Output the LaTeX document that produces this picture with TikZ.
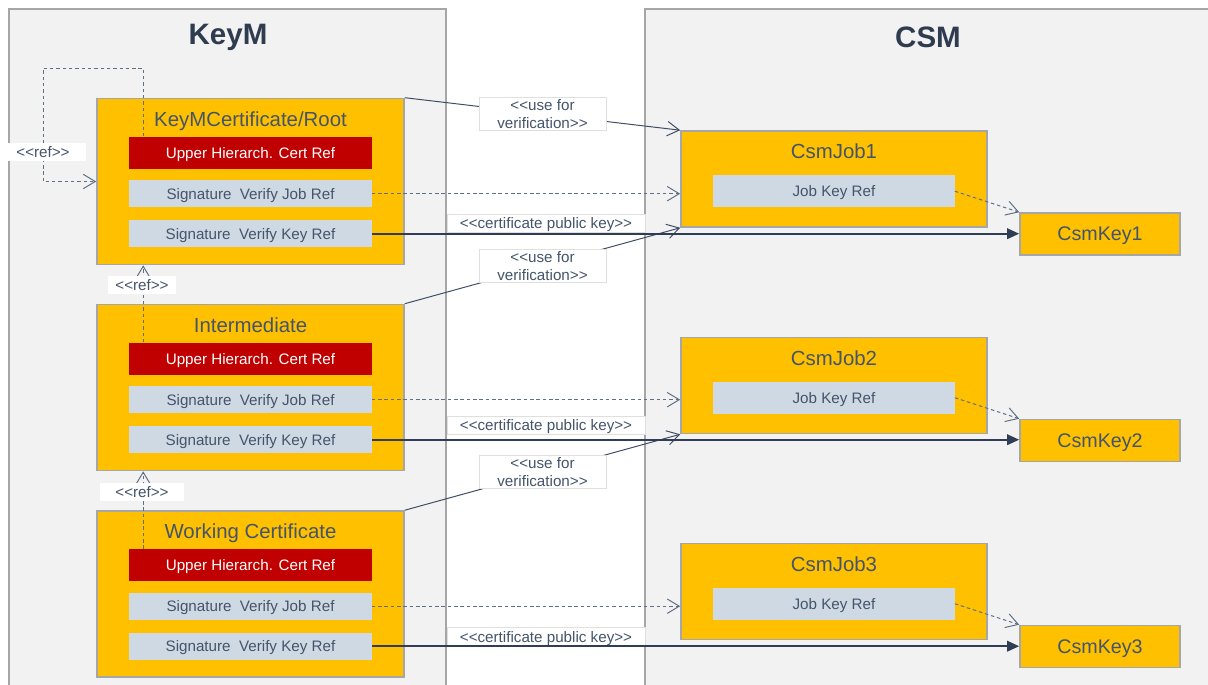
\documentclass[tikz,border=0pt]{standalone}
\usepackage{fontspec}
\setmainfont{Liberation Sans}
\usepackage{tikz}
\usetikzlibrary{calc,positioning,arrows.meta}
\definecolor{keyorange}{HTML}{FFC000}
\definecolor{keyred}{HTML}{C00000}
\definecolor{fieldblue}{HTML}{CFD9E4}
\definecolor{inktext}{HTML}{44546A}
\definecolor{titleink}{HTML}{2F3B4F}
\definecolor{panelgray}{HTML}{F2F2F2}
\definecolor{bordergray}{HTML}{A6A6A6}
\definecolor{dashink}{HTML}{5F7086}
\definecolor{linkink}{HTML}{3E4D63}
\definecolor{keyink}{HTML}{2F3E56}
\tikzset{
  panel/.style={draw=bordergray, fill=panelgray, line width=1.2pt, inner sep=0pt},
  paneltitle/.style={font=\fontsize{21}{24}\selectfont\bfseries, text=titleink},
  certbox/.style={draw=bordergray, fill=keyorange, line width=1.1pt, 
  minimum width=7.675cm, minimum height=4.15cm, inner sep=0pt},
  jobbox/.style={certbox, minimum width=7.65cm, minimum height=2.4cm},
  keybox/.style={certbox, minimum width=4cm, minimum height=1.05cm, text depth=0pt,
  font=\fontsize{14}{16}\selectfont, text=inktext},
  boxtitle/.style={font=\fontsize{14.5}{17}\selectfont, text=inktext, inner sep=0pt, text depth=0pt},
  upperfield/.style={fill=keyred, text=white, minimum width=6.05cm, text depth=0pt,
  minimum height=0.8cm, inner sep=0pt, font=\fontsize{10.8}{13}\selectfont},
  reffield/.style={upperfield, fill=fieldblue, text=inktext, minimum height=0.675cm},
  jobfield/.style={reffield, minimum width=6.025cm, minimum height=0.8cm},
  reflabel/.style={fill=white, text=inktext, inner sep=1pt, minimum width=1.7cm, text depth=0pt,
  minimum height=0.45cm, font=\fontsize{10.8}{13}\selectfont},
  verlabel/.style={fill=white, text=inktext, draw=gray!25, line width=0.4pt, align=center,
  inner sep=1pt, minimum width=3.175cm, minimum height=0.825cm, font=\fontsize{10.8}{12.8}\selectfont},
  pubkeylabel/.style={reflabel, draw=gray!25, line width=0.4pt, minimum width=4.95cm},
  refline/.style={draw=dashink, line width=0.7pt, dash pattern=on 2.5pt off 2pt,
  -{Straight Barb[length=3mm,width=3.6mm]}},
  verline/.style={draw=linkink, line width=0.7pt, -{Straight Barb[length=3mm,width=3.6mm]}},
  keyline/.style={draw=keyink, line width=1.4pt, -{Triangle[length=3mm,width=2.6mm]}}
}
\begin{document}
\begin{tikzpicture}[x=0.025cm, y=-0.025cm]
\clip (0,0) rectangle (1208,684);
% panels
\node[panel, minimum width=10.925cm, minimum height=17.275cm] (keym) at (227.5,354.5) {};
\node[panel, minimum width=14.625cm, minimum height=17.275cm] (csm) at (937.5,354.5) {};
\node[paneltitle] (keymtitle) at (228,37) {KeyM};
\node[paneltitle] (csmtitle) at (928,37) {CSM};

% KeyM certificates
\node[certbox] (root) at (250.5,181.5) {};
\node[boxtitle] (roottitle) at ($(root.north)+(0,21)$) {KeyMCertificate/Root};
\node[upperfield] (rootup) at ($(root.north)+(0,55)$) {Upper Hierarch. Cert Ref};
\node[reffield] (rootjob) at ($(root.north)+(0,96)$) {Signature\ \ Verify Job Ref};
\node[reffield] (rootkey) at ($(root.north)+(0,136)$) {Signature\ \ Verify Key Ref};

\node[certbox] (int) at (250.5,387.5) {};
\node[boxtitle] (inttitle) at ($(int.north)+(0,21)$) {Intermediate};
\node[upperfield] (intup) at ($(int.north)+(0,55)$) {Upper Hierarch. Cert Ref};
\node[reffield] (intjob) at ($(int.north)+(0,96)$) {Signature\ \ Verify Job Ref};
\node[reffield] (intkey) at ($(int.north)+(0,136)$) {Signature\ \ Verify Key Ref};

\node[certbox] (work) at (250.5,594) {};
\node[boxtitle] (worktitle) at ($(work.north)+(0,21)$) {Working Certificate};
\node[upperfield] (workup) at ($(work.north)+(0,55)$) {Upper Hierarch. Cert Ref};
\node[reffield] (workjob) at ($(work.north)+(0,96)$) {Signature\ \ Verify Job Ref};
\node[reffield] (workkey) at ($(work.north)+(0,136)$) {Signature\ \ Verify Key Ref};

% CSM jobs and keys
\node[jobbox] (job1) at (834,179) {};
\node[boxtitle] (job1title) at ($(job1.north)+(0,21)$) {CsmJob1};
\node[jobfield] (job1ref) at ($(job1.north)+(0,61)$) {Job Key Ref};
\node[jobbox] (job2) at (834,385.5) {};
\node[boxtitle] (job2title) at ($(job2.north)+(0,21)$) {CsmJob2};
\node[jobfield] (job2ref) at ($(job2.north)+(0,61)$) {Job Key Ref};
\node[jobbox] (job3) at (834,591.5) {};
\node[boxtitle] (job3title) at ($(job3.north)+(0,21)$) {CsmJob3};
\node[jobfield] (job3ref) at ($(job3.north)+(0,61)$) {Job Key Ref};

\node[keybox] (key1) at (1100,234) {CsmKey1};
\node[keybox] (key2) at (1100,440.5) {CsmKey2};
\node[keybox] (key3) at (1100,646.5) {CsmKey3};

% hierarchy refs
\coordinate (refloop) at (43,68);
\draw[refline] ($(rootup.north west)+(14,0)$) |- (refloop) |- (root.west);
\draw[refline] ($(intup.north west)+(14,0)$) coordinate (intref) -- (intref |- root.south);
\draw[refline] ($(workup.north west)+(14,0)$) coordinate (workref) -- (workref |- int.south);
\node[reflabel, minimum width=2.125cm] (ref1) at (43,152) {<{}<ref>{}>};
\node[reflabel] (ref2) at (142,285) {<{}<ref>{}>};
\node[reflabel, minimum width=2.075cm] (ref3) at (142,492) {<{}<ref>{}>};

% use for verification
\draw[verline] (root.north east) -- node[verlabel] (ver1) {<{}<use for\\verification>{}>} (job1.north west);
\draw[verline] (int.north east) -- node[verlabel] (ver2) {<{}<use for\\verification>{}>} (job1.south west);
\draw[verline] (work.north east) -- node[verlabel] (ver3) {<{}<use for\\verification>{}>} (job2.south west);

% job refs
\draw[refline] (rootjob.east) -- (rootjob.east -| job1.west);
\draw[refline] (intjob.east) -- (intjob.east -| job2.west);
\draw[refline] (workjob.east) -- (workjob.east -| job3.west);
\draw[refline] (job1ref.east) -- (key1.north west);
\draw[refline] (job2ref.east) -- (key2.north west);
\draw[refline] (job3ref.east) -- (key3.north west);

% key refs
\node[pubkeylabel] (pub1) at (546,223) {<{}<certificate public key>{}>};
\node[pubkeylabel] (pub2) at (546,425) {<{}<certificate public key>{}>};
\node[pubkeylabel] (pub3) at (546,636.5) {<{}<certificate public key>{}>};
\draw[keyline] (rootkey.east) -- (rootkey.east -| key1.west);
\draw[keyline] (intkey.east) -- (intkey.east -| key2.west);
\draw[keyline] (workkey.east) -- (workkey.east -| key3.west);
\end{tikzpicture}
\end{document}
